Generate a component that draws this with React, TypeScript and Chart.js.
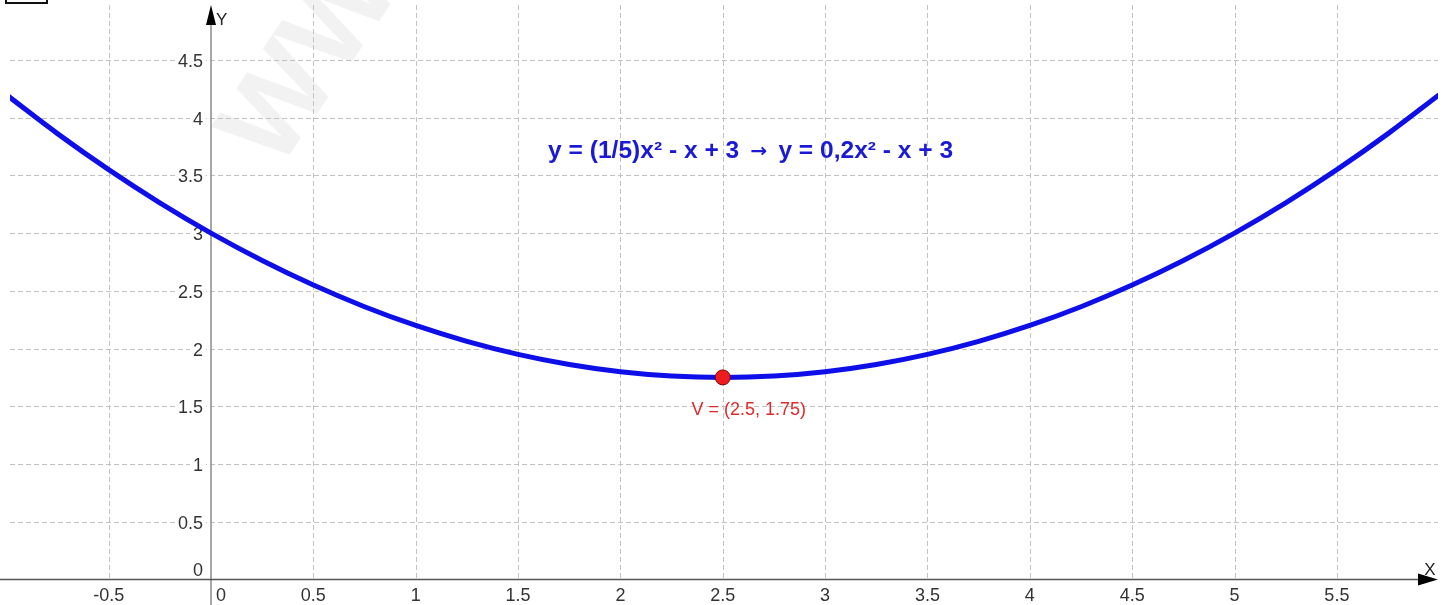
import { useEffect, useRef } from "react";
import { Chart, registerables } from "chart.js";

Chart.register(...registerables);

const curveX = [-1, -0.75, -0.5, -0.25, 0, 0.25, 0.5, 0.75, 1, 1.25, 1.5, 1.75, 2, 2.25, 2.5, 2.75, 3, 3.25, 3.5, 3.75, 4, 4.25, 4.5, 4.75, 5, 5.25, 5.5, 5.75, 6];
const curveY = [4.2, 3.8625, 3.55, 3.2625, 3, 2.7625, 2.55, 2.3625, 2.2, 2.0625, 1.95, 1.8625, 1.8, 1.7625, 1.75, 1.7625, 1.8, 1.8625, 1.95, 2.0625, 2.2, 2.3625, 2.55, 2.7625, 3, 3.2625, 3.55, 3.8625, 4.2];

const vertexX = [2.5];
const vertexY = [1.75];

const xTicks = [-0.5, 0, 0.5, 1, 1.5, 2, 2.5, 3, 3.5, 4, 4.5, 5, 5.5];
const xTickLabels = ["-0.5", "0", "0.5", "1", "1.5", "2", "2.5", "3", "3.5", "4", "4.5", "5", "5.5"];
const yTicks = [0, 0.5, 1, 1.5, 2, 2.5, 3, 3.5, 4, 4.5];
const yTickLabels = ["0", "0.5", "1", "1.5", "2", "2.5", "3", "3.5", "4", "4.5"];

const titleLeft = "y = (1/5)x² - x + 3 ";
const titleArrow = "→";
const titleRight = " y = 0,2x² - x + 3";
const vertexLabel = "V = (2.5, 1.75)";
const xAxisName = "X";
const yAxisName = "Y";
const watermark = "WWW";

const X_MIN = -0.982;
const X_MAX = 5.994;
const Y_MIN = -0.222;
const Y_MAX = 4.977;

const TICK_FONT = '18px "Liberation Sans", Arial, sans-serif';

const geoPlugin = {
  id: "geoPlugin",
  beforeDatasetsDraw(chart: any) {
    const { ctx, chartArea: ca, scales } = chart;
    const xs = scales.x;
    const ys = scales.y;
    const x0 = xs.getPixelForValue(0);
    const y0 = ys.getPixelForValue(0);
    const W = chart.width;
    const H = chart.height;

    ctx.save();
    ctx.fillStyle = "#ffffff";
    ctx.fillRect(0, 0, W, H);

    // faint watermark
    ctx.save();
    ctx.translate(278, 172);
    ctx.rotate(-0.98);
    ctx.font = 'bold 118px "Liberation Sans", Arial, sans-serif';
    ctx.fillStyle = "#f2f2f2";
    ctx.textBaseline = "alphabetic";
    ctx.fillText(watermark, 0, 0);
    ctx.restore();

    // top-left small box
    ctx.strokeStyle = "#111";
    ctx.lineWidth = 2;
    ctx.strokeRect(6, -10, 41, 13);

    // grid
    ctx.strokeStyle = "#c2c2c2";
    ctx.lineWidth = 1;
    ctx.setLineDash([5, 3]);
    xTicks.forEach((v) => {
      if (v === 0) return;
      const px = Math.round(xs.getPixelForValue(v)) + 0.5;
      ctx.beginPath();
      ctx.moveTo(px, ca.top);
      ctx.lineTo(px, y0);
      ctx.stroke();
    });
    yTicks.forEach((v) => {
      if (v === 0) return;
      const py = Math.round(ys.getPixelForValue(v)) + 0.5;
      ctx.beginPath();
      ctx.moveTo(ca.left, py);
      ctx.lineTo(ca.right, py);
      ctx.stroke();
    });
    ctx.setLineDash([]);

    // axes
    ctx.strokeStyle = "#8a8a8a";
    ctx.lineWidth = 1.5;
    ctx.beginPath();
    ctx.moveTo(x0, ca.top + 14);
    ctx.lineTo(x0, H);
    ctx.stroke();

    ctx.strokeStyle = "#555";
    ctx.beginPath();
    ctx.moveTo(0, y0);
    ctx.lineTo(ca.right - 12, y0);
    ctx.stroke();

    // arrows
    ctx.fillStyle = "#000";
    ctx.beginPath();
    ctx.moveTo(x0, ca.top);
    ctx.lineTo(x0 - 5, ca.top + 20);
    ctx.lineTo(x0 + 5, ca.top + 20);
    ctx.closePath();
    ctx.fill();

    ctx.beginPath();
    ctx.moveTo(ca.right, y0);
    ctx.lineTo(ca.right - 20, y0 - 6);
    ctx.lineTo(ca.right - 20, y0 + 6);
    ctx.closePath();
    ctx.fill();

    // axis names
    ctx.font = '17px "Liberation Sans", Arial, sans-serif';
    ctx.fillStyle = "#222";
    ctx.textAlign = "left";
    ctx.textBaseline = "alphabetic";
    ctx.fillText(yAxisName, x0 + 5, ca.top + 20);
    ctx.textAlign = "center";
    ctx.fillText(xAxisName, ca.right - 8, y0 - 4);

    // tick labels
    ctx.font = TICK_FONT;
    ctx.fillStyle = "#333";
    yTicks.forEach((v, i) => {
      const label = yTickLabels[i];
      const py = ys.getPixelForValue(v);
      const base = v === 0 ? y0 - 3 : py + 7;
      const w = ctx.measureText(label).width;
      if (v !== 0) {
        ctx.fillStyle = "#ffffff";
        ctx.fillRect(x0 - 8 - w - 3, py - 3, w + 6, 6);
      }
      ctx.fillStyle = "#333";
      ctx.textAlign = "right";
      ctx.fillText(label, x0 - 8, base);
    });
    xTicks.forEach((v, i) => {
      const label = xTickLabels[i];
      const px = xs.getPixelForValue(v);
      if (v === 0) {
        ctx.textAlign = "left";
        ctx.fillText(label, x0 + 5, y0 + 22);
      } else {
        ctx.textAlign = "center";
        ctx.fillText(label, px, y0 + 22);
      }
    });

    ctx.restore();
  },
  afterDatasetsDraw(chart: any) {
    const { ctx, scales } = chart;
    const xs = scales.x;
    const ys = scales.y;
    ctx.save();

    // title (in three pieces so the arrow gets a proper glyph)
    const mainFont = 'bold 23px "Liberation Sans", Arial, sans-serif';
    const arrowFont = 'bold 19px "DejaVu Sans", sans-serif';
    const gap = 4;
    ctx.fillStyle = "#1a1ad6";
    ctx.textBaseline = "alphabetic";
    ctx.textAlign = "left";
    ctx.font = mainFont;
    const w1 = ctx.measureText(titleLeft).width;
    const w3 = ctx.measureText(titleRight).width;
    ctx.font = arrowFont;
    const w2 = ctx.measureText(titleArrow).width;
    const total = w1 + w2 + w3 + 2 * gap;
    const targetW = 405;
    const sx = targetW / total;
    const tx = xs.getPixelForValue(2.636) - targetW / 2;
    const ty = ys.getPixelForValue(3.652);
    ctx.translate(tx, ty);
    ctx.scale(sx, 1);
    ctx.font = mainFont;
    ctx.fillText(titleLeft, 0, 0);
    ctx.font = arrowFont;
    ctx.fillText(titleArrow, w1 + gap, -0.5);
    ctx.font = mainFont;
    ctx.fillText(titleRight, w1 + w2 + 2 * gap, 0);
    ctx.setTransform(1, 0, 0, 1, 0, 0);

    // vertex label
    ctx.font = '18px "Liberation Sans", Arial, sans-serif';
    ctx.fillStyle = "#dd2a2a";
    ctx.textAlign = "center";
    ctx.fillText(vertexLabel, xs.getPixelForValue(2.627), ys.getPixelForValue(1.425));

    ctx.restore();
  },
};

export default function App() {
  const canvasRef = useRef<HTMLCanvasElement | null>(null);

  useEffect(() => {
    document.body.style.margin = "0";
    const canvas = canvasRef.current;
    if (!canvas) return;
    const curveData = curveX.map((x, i) => ({ x, y: curveY[i] }));
    const vertexData = vertexX.map((x, i) => ({ x, y: vertexY[i] }));

    const chart = new Chart(canvas, {
      type: "scatter",
      data: {
        datasets: [
          {
            label: "V",
            data: vertexData,
            pointRadius: 7.5,
            pointHoverRadius: 7.5,
            backgroundColor: "#ee1c1c",
            borderColor: "#8b0000",
            borderWidth: 1,
            showLine: false,
          },
          {
            label: "f",
            data: curveData,
            showLine: true,
            borderColor: "#0e0ee8",
            borderWidth: 5,
            pointRadius: 0,
            pointHoverRadius: 0,
            tension: 0.4,
            fill: false,
          },
        ],
      },
      options: {
        animation: false,
        responsive: true,
        maintainAspectRatio: false,
        layout: { autoPadding: false, padding: { left: 10, right: 11, top: 5, bottom: 0 } },
        scales: {
          x: { type: "linear", min: X_MIN, max: X_MAX, display: false },
          y: { type: "linear", min: Y_MIN, max: Y_MAX, display: false },
        },
        plugins: {
          legend: { display: false },
          tooltip: { enabled: false },
        },
        events: [],
      },
      plugins: [geoPlugin],
    });
    return () => chart.destroy();
  }, []);

  return (
    <div style={{ position: "fixed", left: 0, top: 0, width: 1449, height: 605, background: "#fff" }}>
      <canvas ref={canvasRef} style={{ width: 1449, height: 605 }} />
    </div>
  );
}
